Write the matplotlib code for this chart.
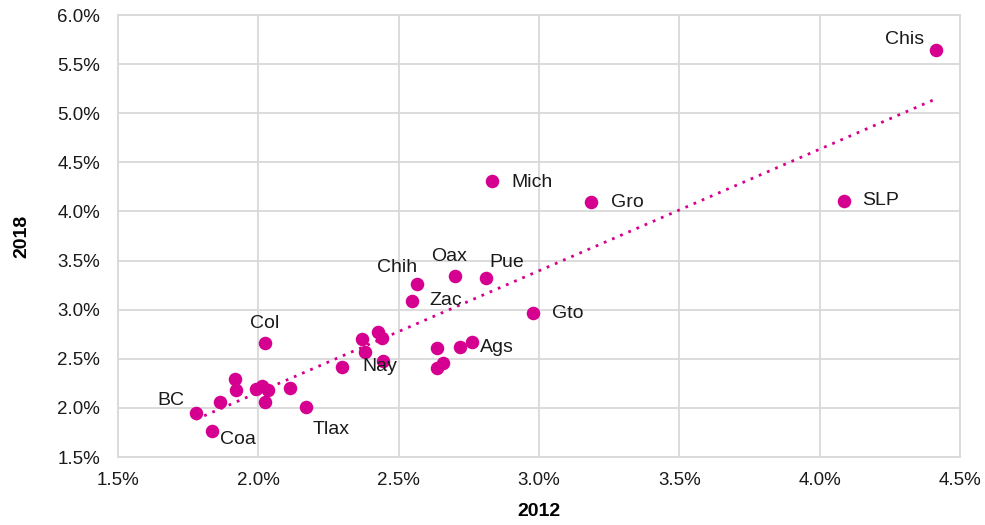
import numpy as np
import matplotlib
matplotlib.use("Agg")
import matplotlib.pyplot as plt
from matplotlib.ticker import FuncFormatter, MultipleLocator

plt.rcParams['font.family'] = ['Liberation Sans', 'DejaVu Sans']

# data (percent)
x2012 = [4.415, 4.087, 3.187, 2.831, 2.810, 2.699, 2.564, 2.546, 2.977, 2.763,
         2.635, 2.717, 2.635, 2.657, 2.368, 2.425, 2.440, 2.380, 2.443, 2.297,
         2.023, 2.169, 1.778, 1.835, 1.863, 1.916, 1.920, 1.991, 2.012, 2.034,
         2.023, 2.112]
y2018 = [5.645, 4.107, 4.097, 4.310, 3.323, 3.343, 3.262, 3.089, 2.966, 2.670,
         2.610, 2.620, 2.406, 2.457, 2.700, 2.770, 2.710, 2.570, 2.478, 2.417,
         2.660, 2.009, 1.948, 1.765, 2.060, 2.294, 2.180, 2.190, 2.220, 2.180,
         2.060, 2.200]
labels = ["Chis", "SLP", "Gro", "Mich", "Pue", "Oax", "Chih", "Zac", "Gto", "Ags",
          "", "", "", "", "", "", "", "", "", "Nay",
          "Col", "Tlax", "BC", "Coa", "", "", "", "", "", "",
          "", ""]
# label placement: (dx px, dy px, ha)
label_pos = {
    "Chis": (-12, 10, "right"), "SLP": (18, 0, "left"), "Gro": (20, -1, "left"),
    "Mich": (20, -1, "left"), "Pue": (4, 15, "left"), "Oax": (-5, 19, "center"),
    "Chih": (-20, 16, "center"), "Zac": (18, 0, "left"), "Gto": (19, 0, "left"),
    "Ags": (7, -5, "left"), "Nay": (21, 0, "left"), "Col": (0, 20, "center"),
    "Tlax": (7, -22, "left"), "BC": (-12, 13, "right"), "Coa": (8, -9, "left"),
}

color = '#D5008F'
fig = plt.figure(figsize=(9.85, 5.25), dpi=100)
ax = fig.add_axes([0.1198, 0.1295, 0.9746 - 0.1198, 0.9714 - 0.1295])

ax.scatter(x2012, y2018, s=95, color=color, zorder=3, linewidths=0)

# linear trendline
xs = np.array(x2012); ys = np.array(y2018)
k, b = np.polyfit(xs, ys, 1)
xt = np.array([xs.min(), xs.max()])
ax.plot(xt, k * xt + b, linestyle=(0, (1, 2.2)), color=color, linewidth=2, zorder=2)

px2pt = 0.72
for xv, yv, lab in zip(x2012, y2018, labels):
    if not lab:
        continue
    dx, dy, ha = label_pos[lab]
    ax.annotate(lab, (xv, yv), xytext=(dx * px2pt, dy * px2pt), textcoords='offset points',
                ha=ha, va='center', fontsize=14, color='#1a1a1a', zorder=4)

ax.set_xlim(1.5, 4.5)
ax.set_ylim(1.5, 6.0)
ax.xaxis.set_major_locator(MultipleLocator(0.5))
ax.yaxis.set_major_locator(MultipleLocator(0.5))
fmt = FuncFormatter(lambda v, p: f"{v:.1f}%")
ax.xaxis.set_major_formatter(fmt)
ax.yaxis.set_major_formatter(fmt)
ax.grid(True, color='#d9d9d9', linewidth=1.3, zorder=0)
ax.set_axisbelow(True)
for s in ax.spines.values():
    s.set_color('#d9d9d9')
    s.set_linewidth(1.3)
ax.tick_params(axis='x', length=0, labelsize=13.5, colors='#1a1a1a', pad=11)
ax.tick_params(axis='y', length=0, labelsize=13.5, colors='#1a1a1a', pad=13)
ax.set_xlabel("2012", fontsize=14, fontweight='bold', labelpad=10)
ax.set_ylabel("2018", fontsize=14, fontweight='bold', labelpad=19)

fig.savefig("out.png", dpi=100)
